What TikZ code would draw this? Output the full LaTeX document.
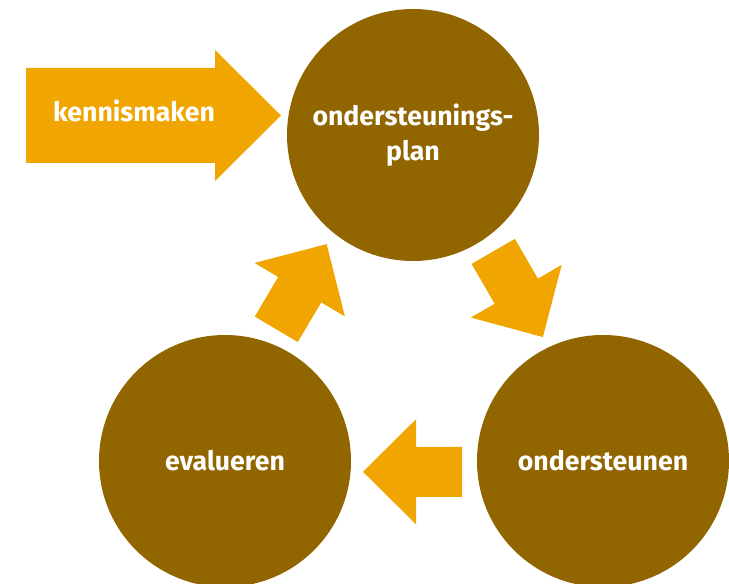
\documentclass[tikz,border=0pt]{standalone}
\usepackage{fontspec}
\setmainfont{Fira Sans}
\usetikzlibrary{positioning}
\definecolor{stapbruin}{HTML}{916600}
\definecolor{pijloranje}{HTML}{F0A500}
\tikzset{
    stap/.style={circle,fill=stapbruin,minimum size=189pt,inner sep=0pt,
        text=white,align=center,font=\bfseries\fontsize{20}{26}\selectfont},
    pijl/.style={fill=pijloranje},
    pijltekst/.style={text=white,inner sep=0pt,font=\bfseries\fontsize{20}{26}\selectfont},
}
% blokpijl: midden van de pijlvoet, hoek
\newcommand{\blokpijl}[3]{
    \fill[pijl,shift={(#1,#2)},rotate=#3]
        (-46,-25) -- (0,-25) -- (0,-52.5) -- (53,0) -- (0,52.5) -- (0,25) -- (-46,25) -- cycle;
}

\begin{document}
\begin{tikzpicture}[x=0.75pt,y=-0.75pt]
    \useasboundingbox (0,0) rectangle (729,584);

    \node[stap] (plan) at (413,135) {ondersteunings-\\plan};
    \node[stap] (ondersteunen) at (603,461) {ondersteunen};
    \node[stap] (evalueren) at (225,461) {evalueren};

    \fill[pijl] (26,68) -- (215,68) -- (215,50) -- (281,115.5) -- (215,181) -- (215,163) -- (26,163) -- cycle;
    \node[pijltekst] (kennis) at (134,110.5) {kennismaken};

    \blokpijl{516.3}{291.2}{-59.9}
    \blokpijl{416}{471.8}{180}
    \blokpijl{299.7}{289.7}{59.4}
\end{tikzpicture}
\end{document}
